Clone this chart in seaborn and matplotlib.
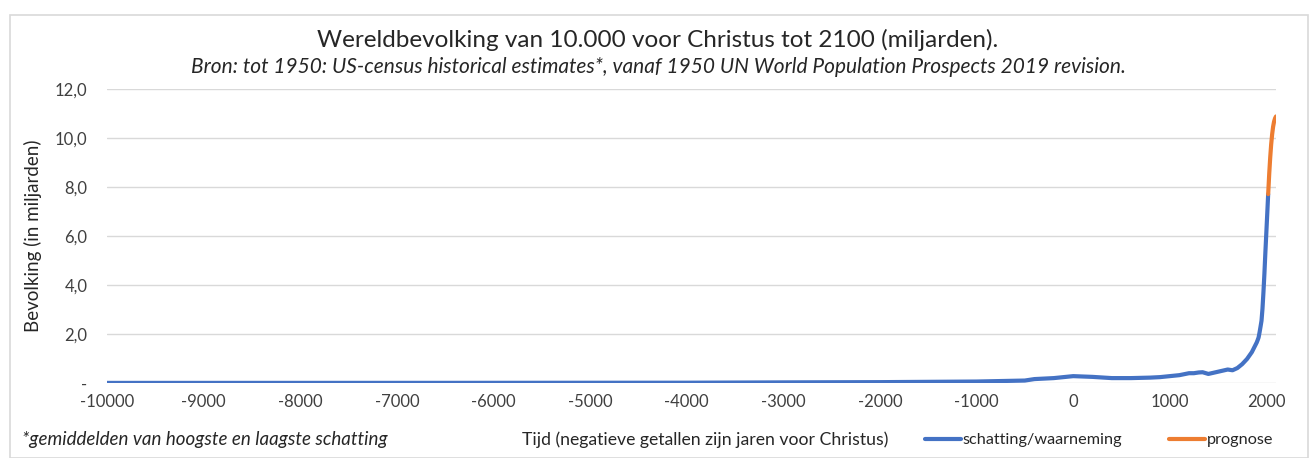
import matplotlib.pyplot as plt
import matplotlib.patches as patches
import pandas as pd
import seaborn as sns

# estimates (billions) up to 2019
est_years = [-10000, -8000, -6500, -5000, -4000, -3000, -2000, -1000, -500, -400, -200, 1, 200,
             400, 500, 600, 700, 800, 900, 1000, 1100, 1200, 1250, 1300, 1340, 1400, 1500,
             1600, 1650, 1700, 1750, 1800, 1850, 1900, 1910, 1920, 1930, 1940, 1950, 1960,
             1970, 1980, 1990, 2000, 2010, 2019]
est_pop = [0.004, 0.005, 0.006, 0.01, 0.012, 0.025, 0.035, 0.06, 0.1, 0.16, 0.2, 0.28, 0.25,
           0.2, 0.2, 0.2, 0.21, 0.22, 0.24, 0.28, 0.32, 0.4, 0.4, 0.43, 0.44, 0.37, 0.46,
           0.55, 0.52, 0.61, 0.77, 0.98, 1.26, 1.65, 1.75, 1.86, 2.07, 2.3, 2.54, 3.03,
           3.7, 4.46, 5.33, 6.14, 6.96, 7.71]
# UN projection
proj_years = [2019, 2030, 2040, 2050, 2060, 2070, 2080, 2090, 2100]
proj_pop = [7.71, 8.55, 9.2, 9.74, 10.15, 10.46, 10.67, 10.8, 10.88]

yticks = [0, 2, 4, 6, 8, 10, 12]
ytick_labels = ["-", "2,0", "4,0", "6,0", "8,0", "10,0", "12,0"]
xticks = list(range(-10000, 2001, 1000))

sns.set_theme(style="white")
plt.rcParams["font.family"] = ["Lato", "DejaVu Sans"]

df_est = pd.DataFrame({"jaar": est_years, "bevolking": est_pop})
df_proj = pd.DataFrame({"jaar": proj_years, "bevolking": proj_pop})

fig = plt.figure(figsize=(13.16, 4.58), dpi=100)
ax = fig.add_axes([107 / 1316, 1 - 383 / 458, (1276 - 107) / 1316, (383 - 89) / 458])

sns.lineplot(data=df_est, x="jaar", y="bevolking", ax=ax, color="#4472C4", linewidth=3,
             label="schatting/waarneming", legend=False)
sns.lineplot(data=df_proj, x="jaar", y="bevolking", ax=ax, color="#ED7D31", linewidth=3,
             label="prognose", legend=False)

ax.set_xlim(-10000, 2100)
ax.set_ylim(0, 12)
ax.set_yticks(yticks)
ax.set_yticklabels(ytick_labels)
ax.set_xticks(xticks)
ax.set_xticklabels([str(x) for x in xticks])
ax.tick_params(axis="both", labelsize=12, colors="#404040", length=0)
ax.tick_params(axis="x", pad=8)
ax.tick_params(axis="y", pad=14)
ax.yaxis.grid(True, color="#D9D9D9", linewidth=1)
for s in ax.spines.values():
    s.set_visible(False)
ax.set_xlabel("")
ax.set_ylabel("Bevolking (in miljarden)", fontsize=13.5, color="#262626", labelpad=9)

fig.text(0.5, 1 - 40 / 458, "Wereldbevolking van 10.000 voor Christus tot 2100 (miljarden).",
         ha="center", va="center", fontsize=17.5, color="#262626")
fig.text(0.5, 1 - 67 / 458,
         "Bron: tot 1950: US-census historical estimates*, vanaf 1950 UN World Population Prospects 2019 revision.",
         ha="center", va="center", fontsize=15, style="italic", color="#262626")
fig.text(22 / 1316, 1 - 440 / 458, "*gemiddelden van hoogste en laagste schatting",
         ha="left", va="center", fontsize=13.5, style="italic", color="#262626")
fig.text(522 / 1316, 1 - 440 / 458, "Tijd (negatieve getallen zijn jaren voor Christus)",
         ha="left", va="center", fontsize=12.7, color="#262626")

fig.legend(loc="center left", bbox_to_anchor=(925 / 1316, 1 - 440 / 458), ncol=2,
           frameon=False, fontsize=11.7, handlelength=2.2, handletextpad=0.1,
           columnspacing=2.9, borderaxespad=0, borderpad=0)

fig.patches.append(patches.Rectangle((10 / 1316, 0), 1298 / 1316, 1 - 15 / 458,
                                     transform=fig.transFigure, fill=False,
                                     edgecolor="#D9D9D9", linewidth=1.2))

fig.savefig("out.png", dpi=100)
